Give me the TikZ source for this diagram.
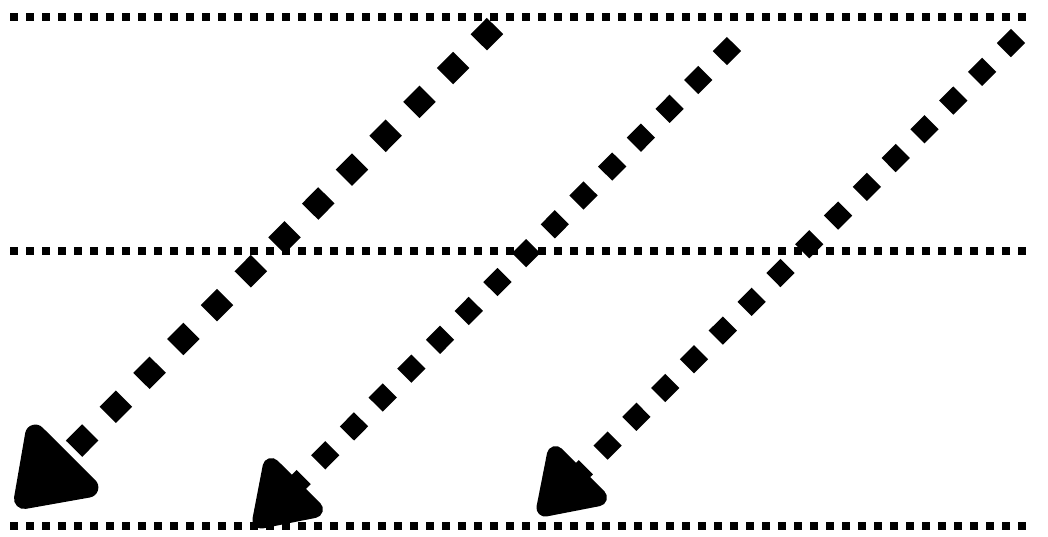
\documentclass[tikz,border=0pt]{standalone}
\usetikzlibrary{arrows.meta}
\begin{document}
\begin{tikzpicture}[
  x=1pt, y=-1pt,
  rail/.style={line width=8pt, dash pattern=on 8pt off 8pt},
  bigflow/.style={line width=23pt, dash pattern=on 23pt off 24.8pt,
    -{Triangle[round, length=82pt, width=108pt]}},
  flow/.style={line width=20pt, dash pattern=on 20pt off 20.7pt,
    -{Triangle[round, length=70pt, width=88pt]}}
]
\useasboundingbox (0,0) rectangle (1048,537);

% rails
\coordinate (topL) at (10,17);
\coordinate (topR) at (1026,17);
\coordinate (midL) at (10,251);
\coordinate (midR) at (1026,251);
\coordinate (botL) at (10,525.5);
\coordinate (botR) at (1026,525.5);

\draw[rail] (topL) -- (topR);
\draw[rail] (midL) -- (midR);
\draw[rail] (botL) -- (botR);

% diagonal arrows
\coordinate (aStart) at (495,26);
\coordinate (aEnd) at (17,506);
\coordinate (bStart) at (734,44);
\coordinate (bEnd) at (255,526);
\coordinate (cStart) at (1018,36);
\coordinate (cEnd) at (539,514);

\draw[bigflow] (aStart) -- (aEnd);
\draw[flow] (bStart) -- (bEnd);
\draw[flow] (cStart) -- (cEnd);
\end{tikzpicture}
\end{document}
